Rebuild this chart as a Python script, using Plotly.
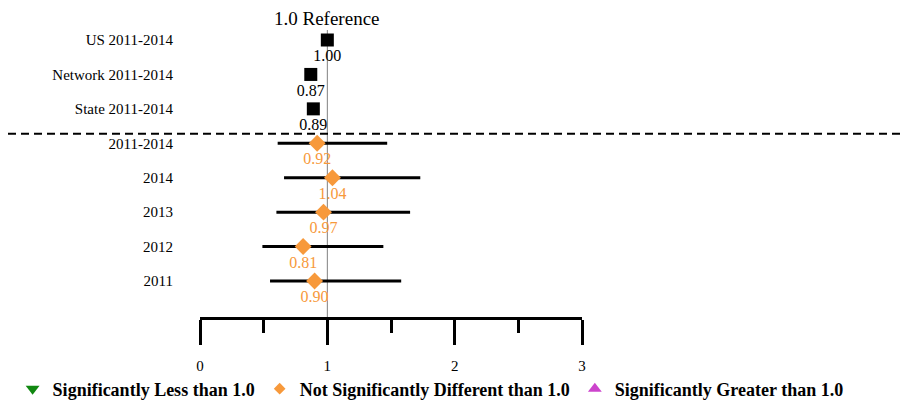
import plotly.graph_objects as go

categories = ["US 2011-2014", "Network 2011-2014", "State 2011-2014",
              "2011-2014", "2014", "2013", "2012", "2011"]
ref_labels = ["US 2011-2014", "Network 2011-2014", "State 2011-2014"]
ref_values = [1.00, 0.87, 0.89]
period_labels = ["2011-2014", "2014", "2013", "2012", "2011"]
period_values = [0.92, 1.04, 0.97, 0.81, 0.90]
period_lower = [0.61, 0.66, 0.60, 0.49, 0.55]
period_upper = [1.47, 1.73, 1.65, 1.44, 1.58]
x_ticks = [0, 1, 2, 3]

FONT = "Liberation Serif, Times New Roman, serif"
ORANGE = "#F7993B"
W, H = 901, 400

# pixel layout helpers
x0_px, x3_px = 200, 582
axis_px = 317
row_top_px, row_bot_px = 40, 281
step = (row_bot_px - row_top_px) / 7.0
y_lo = -(axis_px - row_bot_px) / step
y_hi = 7 + row_top_px / step

fig = go.Figure()

fig.add_trace(go.Scatter(
    x=period_values, y=period_labels, mode="markers+text",
    marker=dict(symbol="diamond", size=13, color=ORANGE),
    error_x=dict(type="data", symmetric=False,
                 array=[u - v for u, v in zip(period_upper, period_values)],
                 arrayminus=[v - l for v, l in zip(period_values, period_lower)],
                 color="black", thickness=3, width=0),
    text=[f"{v:.2f}" for v in period_values], textposition="bottom center",
    textfont=dict(family=FONT, size=16, color=ORANGE),
    showlegend=False, cliponaxis=False,
))

fig.add_trace(go.Scatter(
    x=ref_values, y=ref_labels, mode="markers+text",
    marker=dict(symbol="square", size=13, color="black"),
    text=[f"{v:.2f}" for v in ref_values], textposition="bottom center",
    textfont=dict(family=FONT, size=16, color="black"),
    showlegend=False, cliponaxis=False,
))

# legend entries
for name, sym, col, sz in [("Significantly Less than 1.0", "triangle-down", "#118811", 12),
                           ("Not Significantly Different than 1.0", "diamond", ORANGE, 9),
                           ("Significantly Greater than 1.0", "triangle-up", "#CC44CC", 12)]:
    fig.add_trace(go.Scatter(x=[None], y=[None], mode="markers", name=name,
                             marker=dict(symbol=sym, size=sz, color=col)))

# reference line at 1.0
fig.add_shape(type="line", xref="x", yref="paper", x0=1, x1=1,
              y0=(H - axis_px) / H, y1=(H - 30) / H,
              line=dict(color="#808080", width=1), layer="below")
# dashed separator
fig.add_shape(type="line", xref="paper", yref="y", x0=8 / W, x1=1, y0=4.28, y1=4.28,
              line=dict(color="black", width=2, dash="8px,5px"))

fig.add_annotation(x=1, xref="x", y=(H - 19) / H, yref="paper", text="1.0 Reference",
                   showarrow=False, font=dict(family=FONT, size=19, color="black"),
                   xanchor="center", yanchor="middle")

fig.update_layout(
    width=W, height=H, autosize=False,
    margin=dict(l=0, r=0, t=0, b=0, autoexpand=False),
    plot_bgcolor="white", paper_bgcolor="white",
    font=dict(family=FONT, size=15, color="black"),
    xaxis=dict(domain=[x0_px / W, x3_px / W], range=[0, 3], tickvals=x_ticks,
               showgrid=False, zeroline=False, showline=True, linewidth=3,
               linecolor="black", ticks="outside", ticklen=25, tickwidth=3,
               tickcolor="black", ticklabelstandoff=8,
               tickfont=dict(family=FONT, size=15),
               minor=dict(dtick=0.5, ticks="outside", ticklen=13, tickwidth=3,
                          tickcolor="black", showgrid=False)),
    yaxis=dict(domain=[(H - axis_px) / H, 1], range=[y_lo, y_hi],
               type="category", categoryorder="array",
               categoryarray=list(reversed(categories)),
               showgrid=False, zeroline=False, showline=False, ticks="",
               ticklabelstandoff=26, tickfont=dict(family=FONT, size=15)),
    legend=dict(orientation="h", x=0.014, y=(H - 389) / H, xanchor="left",
                yanchor="middle", font=dict(family=FONT, size=18, color="black",
                                            weight="bold"),
                bgcolor="rgba(0,0,0,0)", itemwidth=30, tracegroupgap=0),
)

fig.write_html("out.html", config={"displayModeBar": False},
               post_script="document.body.style.margin='0';document.body.style.overflow='hidden';")
